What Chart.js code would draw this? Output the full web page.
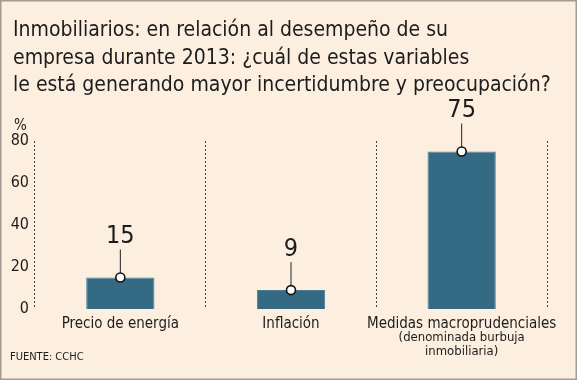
<!DOCTYPE html>
<html>
<head>
<meta charset="utf-8">
<script src="https://cdn.jsdelivr.net/npm/chart.js@4"></script>
<style>
  body { margin: 0; background: #fdefdf; }
  canvas { display: block; }
</style>
</head>
<body>
<canvas id="barChart" width="577" height="380"></canvas>
<script>
// data
var categories = ['Precio de energía', 'Inflación', 'Medidas macroprudenciales'];
var notes = [[], [], ['(denominada burbuja', 'inmobiliaria)']];
var values = [15, 9, 75];
var yTicks = [0, 20, 40, 60, 80];

var titleLines = [
    'Inmobiliarios: en relación al desempeño de su',
    'empresa durante 2013: ¿cuál de estas variables',
    'le está generando mayor incertidumbre y preocupación?'
];
var unitLabel = '%';
var sourceText = 'FUENTE: CCHC';

var FONT = '"DejaVu Sans Condensed", "DejaVu Sans", sans-serif';
var INK = '#1c1c1c';
var BAR = '#356a84';

// title, %, source, notes, frame
var decorPlugin = {
    id: 'decor',
    beforeDraw: function (chart) {
        var ctx = chart.ctx;
        ctx.save();
        ctx.fillStyle = '#fdefdf';
        ctx.fillRect(0, 0, chart.width, chart.height);
        ctx.restore();
    },
    afterDraw: function (chart) {
        var ctx = chart.ctx;
        var xScale = chart.scales.x;
        ctx.save();
        ctx.fillStyle = INK;
        ctx.textBaseline = 'alphabetic';
        ctx.textAlign = 'left';
        ctx.font = '21px ' + FONT;
        for (var i = 0; i < titleLines.length; i++) {
            ctx.fillText(titleLines[i], 13, 36 + i * 27.5);
        }
        ctx.font = '15px ' + FONT;
        ctx.textAlign = 'left';
        ctx.textBaseline = 'middle';
        ctx.fillText(unitLabel, 14, 126);

        ctx.font = '11px ' + FONT;
        ctx.fillText(sourceText, 10, 357);

        ctx.font = '13px ' + FONT;
        ctx.textAlign = 'center';
        for (var c = 0; c < notes.length; c++) {
            var x = xScale.getPixelForValue(c);
            for (var k = 0; k < notes[c].length; k++) {
                ctx.fillText(notes[c][k], x, 338 + k * 14);
            }
        }

        ctx.strokeStyle = '#a39a92';
        ctx.lineWidth = 1.5;
        ctx.strokeRect(0.75, 0.75, chart.width - 1.5, chart.height - 1.5);
        ctx.restore();
    }
};

// value label with leader line and circle on top of each bar
var pinPlugin = {
    id: 'pins',
    afterDatasetsDraw: function (chart) {
        var ctx = chart.ctx;
        var meta = chart.getDatasetMeta(0);
        ctx.save();
        meta.data.forEach(function (bar, i) {
            var x = bar.x, y = bar.y;
            ctx.strokeStyle = '#222';
            ctx.lineWidth = 1;
            ctx.beginPath();
            ctx.moveTo(x, y);
            ctx.lineTo(x, y - 28);
            ctx.stroke();
            ctx.beginPath();
            ctx.arc(x, y, 4.5, 0, Math.PI * 2);
            ctx.fillStyle = '#fff';
            ctx.fill();
            ctx.lineWidth = 1.6;
            ctx.strokeStyle = '#111';
            ctx.stroke();
            ctx.fillStyle = INK;
            ctx.font = '25px ' + FONT;
            ctx.textAlign = 'center';
            ctx.textBaseline = 'middle';
            ctx.fillText(String(values[i]), x, y - 41);
        });
        ctx.restore();
    }
};

var ctx = document.getElementById('barChart').getContext('2d');
var chart = new Chart(ctx, {
    type: 'bar',
    data: {
        labels: categories,
        datasets: [{
            data: values,
            backgroundColor: BAR,
            borderColor: '#4d7f96',
            borderWidth: 1,
            categoryPercentage: 1,
            barPercentage: 0.4
        }]
    },
    options: {
        responsive: false,
        animation: false,
        events: [],
        layout: {
            padding: { top: 141, right: 30, bottom: 0, left: 0 }
        },
        plugins: {
            legend: { display: false },
            tooltip: { enabled: false }
        },
        scales: {
            x: {
                offset: true,
                afterFit: function (scale) { scale.height = 71; },
                grid: {
                    display: true,
                    offset: true,
                    drawTicks: false,
                    color: '#444',
                    lineWidth: 1
                },
                border: { display: false, dash: [2, 2] },
                ticks: {
                    color: INK,
                    font: { family: FONT, size: 15 },
                    padding: 6,
                    maxRotation: 0,
                    autoSkip: false
                }
            },
            y: {
                min: 0,
                max: 80,
                afterFit: function (scale) { scale.width = 35; },
                afterBuildTicks: function (scale) {
                    scale.ticks = yTicks.map(function (v) { return { value: v }; });
                },
                grid: { display: false, drawTicks: false },
                border: { display: false },
                ticks: {
                    color: INK,
                    font: { family: FONT, size: 16 },
                    padding: 6
                }
            }
        }
    },
    plugins: [decorPlugin, pinPlugin]
});
</script>
</body>
</html>
